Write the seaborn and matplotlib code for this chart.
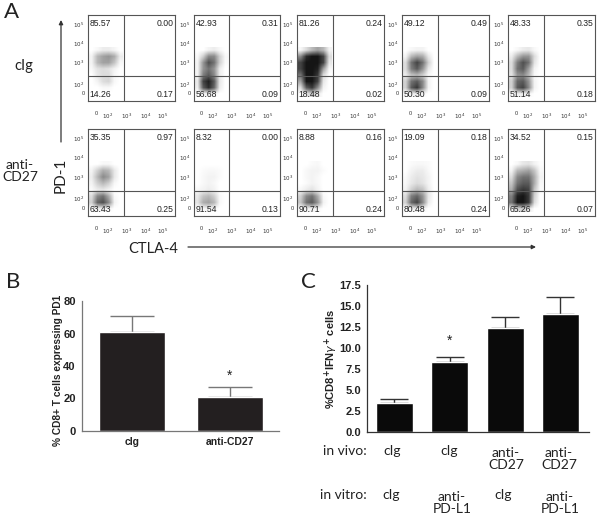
import matplotlib
matplotlib.use("Agg")
import matplotlib.pyplot as plt
import numpy as np
import seaborn as sns
from matplotlib.patches import FancyArrowPatch

W, H = 600, 519

# quadrant percentages, per panel: top left, top right, bottom left, bottom right
top_quads = [
    ["85.57", "0.00", "14.26", "0.17"],
    ["42.93", "0.31", "56.68", "0.09"],
    ["81.26", "0.24", "18.48", "0.02"],
    ["49.12", "0.49", "50.30", "0.09"],
    ["48.33", "0.35", "51.14", "0.18"],
]
bottom_quads = [
    ["35.35", "0.97", "63.43", "0.25"],
    ["8.32", "0.00", "91.54", "0.13"],
    ["8.88", "0.16", "90.71", "0.24"],
    ["19.09", "0.18", "80.48", "0.24"],
    ["34.52", "0.15", "65.26", "0.07"],
]

# dot darkness, coarse cells, top row first
cig_1 = [[0, .03, .08, .08, .04, 0], [.05, .3, .4, .45, .35, .08], [.05, .3, .4, .4, .25, .03],
         [.03, .12, .15, .12, .05, 0], [0, .1, .15, .15, .03, 0], [0, .05, .15, .18, .03, 0],
         [0, 0, .03, .03, 0, 0], [0, 0, 0, 0, 0, 0]]
cig_2 = [[0, 0, .05, .08, .03, 0], [.03, .2, .5, .5, .2, .03], [.05, .45, .75, .6, .2, .02],
         [.05, .45, .6, .45, .08, 0], [.05, .55, .7, .5, .08, 0], [.1, .8, .95, .7, .1, 0],
         [.08, .7, .9, .65, .08, 0], [0, .03, .05, .03, 0, 0]]
cig_3 = [[.03, .15, .3, .4, .3, .05], [.5, .9, 1, 1, .8, .15], [.8, 1, 1, 1, .8, .1],
         [.8, 1, 1, .95, .4, .03], [.6, 1, 1, .85, .15, 0], [.4, 1, 1, .8, .1, 0],
         [.15, .7, .85, .5, .05, 0], [0, .1, .2, .08, 0, 0]]
cig_4 = [[0, .03, .05, .05, 0, 0], [.05, .3, .4, .35, .1, 0], [.15, .6, .8, .6, .2, 0],
         [.15, .55, .7, .45, .1, 0], [.08, .25, .3, .2, .03, 0], [.2, .6, .7, .5, .05, 0],
         [.2, .7, .85, .5, .05, 0], [0, .05, .08, .03, 0, 0]]
cig_5 = [[0, .03, .08, .1, .03, 0], [.08, .3, .45, .45, .15, 0], [.15, .55, .75, .6, .12, 0],
         [.15, .6, .7, .4, .05, 0], [.12, .45, .5, .3, .03, 0], [.2, .65, .7, .45, .05, 0],
         [.2, .7, .8, .5, .05, 0], [0, .05, .08, .03, 0, 0]]
cd27_1 = [[0, 0, .03, .03, 0, 0], [.05, .2, .35, .3, .1, 0], [.08, .3, .5, .4, .1, 0],
          [.05, .2, .3, .2, .03, 0], [.02, .08, .1, .05, 0, 0], [.15, .5, .6, .35, .03, 0],
          [.2, .65, .75, .5, .05, 0], [0, .05, .05, .03, 0, 0]]
cd27_2 = [[0, 0, 0, 0, 0, 0], [0, .02, .03, .03, .02, 0], [0, .03, .05, .05, .02, 0],
          [0, .03, .05, .03, 0, 0], [.03, .05, .08, .05, 0, 0], [.1, .25, .3, .2, .03, 0],
          [.12, .35, .4, .3, .03, 0], [0, .03, .05, .03, 0, 0]]
cd27_3 = [[0, 0, .02, .03, 0, 0], [0, .03, .05, .05, .02, 0], [0, .03, .05, .03, 0, 0],
          [0, .02, .05, .03, 0, 0], [.03, .08, .12, .05, 0, 0], [.2, .5, .6, .35, .03, 0],
          [.25, .6, .7, .45, .05, 0], [0, .05, .05, .03, 0, 0]]
cd27_4 = [[0, .02, .03, .03, .02, 0], [0, .05, .08, .08, .03, 0], [.02, .08, .12, .1, .05, 0],
          [.03, .1, .15, .12, .05, 0], [.05, .2, .3, .25, .08, 0], [.15, .55, .65, .45, .1, 0],
          [.2, .65, .8, .5, .08, 0], [0, .05, .08, .05, 0, 0]]
cd27_5 = [[0, .03, .1, .12, .05, .01], [.05, .3, .35, .4, .25, .03], [.15, .5, .6, .6, .35, .05],
          [.25, .6, .7, .7, .35, .03], [.35, .75, .85, .8, .25, .02], [.55, .95, 1, .85, .2, 0],
          [.6, 1, 1, .85, .15, 0], [.03, .15, .2, .1, 0, 0]]

b_groups = ["cIg", "anti-CD27"]
b_means = [61, 21]
b_tops = [70.5, 27]
b_ticks = [0, 20, 40, 60, 80]

c_groups = ["g1", "g2", "g3", "g4"]
c_means = [3.4, 8.3, 12.4, 14.1]
c_tops = [3.9, 8.9, 13.7, 16.1]
c_ticks = [0, 2.5, 5, 7.5, 10, 12.5, 15, 17.5]
in_vivo = ["cIg", "cIg", "anti-\nCD27", "anti-\nCD27"]
in_vitro = ["cIg", "anti-\nPD-L1", "cIg", "anti-\nPD-L1"]

log_ticks = ["0", "$10^{2}$", "$10^{3}$", "$10^{4}$", "$10^{5}$"]

sns.set_theme(style="white")
plt.rcParams["font.family"] = ["Liberation Sans", "DejaVu Sans"]
LABEL_FONT = "Lato"
DOT_CMAP = sns.blend_palette(["#ffffff", "#151515"], as_cmap=True)


def add_px_axes(fig, x0, y0, x1, y1):
    return fig.add_axes([x0 / W, 1 - y1 / H, (x1 - x0) / W, (y1 - y0) / H])


def dot_panel(fig, box, grid, quads):
    x0, y0, x1, y1 = box
    ax = add_px_axes(fig, x0, y0, x1, y1)
    ax.imshow(np.array(grid), cmap=DOT_CMAP, vmin=0, vmax=1, aspect="auto",
              extent=(0.01, 0.39, 0.05, 0.63), interpolation="bilinear", zorder=1)
    ax.set_xlim(0, 1)
    ax.set_ylim(0, 1)
    ax.axvline(0.41, color="#555555", lw=0.8, zorder=3)
    ax.axhline(0.29, color="#555555", lw=0.8, zorder=3)
    for s in ax.spines.values():
        s.set_color("#555555")
        s.set_linewidth(0.8)
    ax.set_xticks([0.09, 0.22, 0.44, 0.66, 0.86], log_ticks, fontsize=4, color="#333333")
    ax.set_yticks([0.09, 0.2, 0.45, 0.67, 0.89], log_ticks, fontsize=4, color="#333333")
    ax.tick_params(length=1.5, width=0.5, pad=1, color="#555555")
    ax.tick_params(axis="x", pad=6)
    kw = dict(fontsize=6.2, color="#222222", transform=ax.transAxes, zorder=4)
    ax.text(0.02, 0.95, quads[0], ha="left", va="top", **kw)
    ax.text(0.98, 0.95, quads[1], ha="right", va="top", **kw)
    ax.text(0.02, 0.02, quads[2], ha="left", va="bottom", **kw)
    ax.text(0.98, 0.02, quads[3], ha="right", va="bottom", **kw)
    return ax


def bar_panel(ax, groups, means, tops, color, err_color, cap):
    sns.barplot(x=groups, y=means, color=color, saturation=1, width=0.67, ax=ax, zorder=2)
    errs = np.array(tops) - np.array(means)
    ax.errorbar(range(len(groups)), means, yerr=[np.zeros(len(errs)), errs], fmt="none",
                ecolor=err_color, elinewidth=1, capsize=cap, capthick=1, zorder=1)
    sns.despine(ax=ax)
    ax.patch.set_alpha(0)
    ax.spines["left"].set_color(err_color)
    ax.spines["bottom"].set_color(err_color)
    ax.spines["left"].set_linewidth(0.9)
    ax.spines["bottom"].set_linewidth(0.9)
    ax.tick_params(axis="y", length=3, width=0.9, color=err_color, pad=1.5)


fig = plt.figure(figsize=(W / 100, H / 100), dpi=100, facecolor="white")

panel_x = [(88, 175), (194, 280), (297, 384), (402, 489), (508, 595)]
top_grids = [cig_1, cig_2, cig_3, cig_4, cig_5]
bottom_grids = [cd27_1, cd27_2, cd27_3, cd27_4, cd27_5]
for (xa, xb), grid, quads in zip(panel_x, top_grids, top_quads):
    dot_panel(fig, (xa, 15, xb, 101), grid, quads)
for (xa, xb), grid, quads in zip(panel_x, bottom_grids, bottom_quads):
    dot_panel(fig, (xa, 129, xb, 216), grid, quads)

# B
ax_b = add_px_axes(fig, 82, 301, 279, 431)
bar_panel(ax_b, b_groups, b_means, b_tops, "#231f20", "#777777", 16)
ax_b.set_xlim(-0.51, 1.5)
ax_b.set_ylim(0, 80)
ax_b.set_yticks(b_ticks, [str(t) for t in b_ticks], fontsize=8, fontweight="bold", color="#222222")
ax_b.tick_params(axis="x", length=0, pad=4)
ax_b.set_xticks([0, 1], b_groups, fontsize=7.5, fontweight="bold", color="#222222")
ax_b.set_ylabel("% CD8+ T cells expressing PD1", fontsize=7.3, fontweight="bold", color="#222222")
ax_b.yaxis.set_label_coords(-0.095, 0.47)

# C
ax_c = add_px_axes(fig, 367, 285, 589, 432)
bar_panel(ax_c, c_groups, c_means, c_tops, "#0a0a0a", "#333333", 10)
ax_c.set_xlim(-0.497, 3.517)
ax_c.set_ylim(0, 17.5)
ax_c.set_yticks(c_ticks, [f"{t:.1f}" for t in c_ticks], fontsize=8, fontweight="bold", color="#222222")
ax_c.set_xticks([])
ax_c.set_ylabel(r"%CD8$^{\mathbf{+}}$IFN$\gamma^{\mathbf{+}}$ cells", fontsize=8, fontweight="bold", color="#222222")
ax_c.yaxis.set_label_coords(-0.12, 0.5)

# text and arrows in image pixels
over = fig.add_axes([0, 0, 1, 1], zorder=10)
over.set_xlim(0, W)
over.set_ylim(H, 0)
over.axis("off")


def note(x, y, s, size=10, ha="center", rotation=0, family=LABEL_FONT):
    over.text(x, y, s, fontsize=size, ha=ha, va="center", rotation=rotation,
              family=family, color="#222222", linespacing=1.05)


note(12, 12, "A", 16)
note(13, 282, "B", 16)
note(308, 282, "C", 16)
note(24, 66, "cIg", 10.5)
note(20, 171, "anti-\nCD27", 10)
note(61, 175, "PD-1", 11)
over.texts[-1].set_rotation(90)
note(153, 249, "CTLA-4", 10.5)
note(230, 376, "*", 10, family="Liberation Sans")
note(450, 341, "*", 10, family="Liberation Sans")

for start, end in [((61, 142), (61, 20)), ((188, 247), (536, 247))]:
    over.add_patch(FancyArrowPatch(start, end, arrowstyle="-|>", mutation_scale=6, lw=0.9,
                                   color="#333333", shrinkA=0, shrinkB=0))

note(367, 451, "in vivo:", ha="right")
note(367, 495, "in vitro:", ha="right")
for x, s in zip([392, 449, 506, 559], in_vivo):
    note(x, 451 if "\n" not in s else 459, s)
for x, s in zip([391, 452, 503, 560], in_vitro):
    note(x, 495 if "\n" not in s else 503, s)

fig.savefig("out.png", dpi=100)
plt.close(fig)
